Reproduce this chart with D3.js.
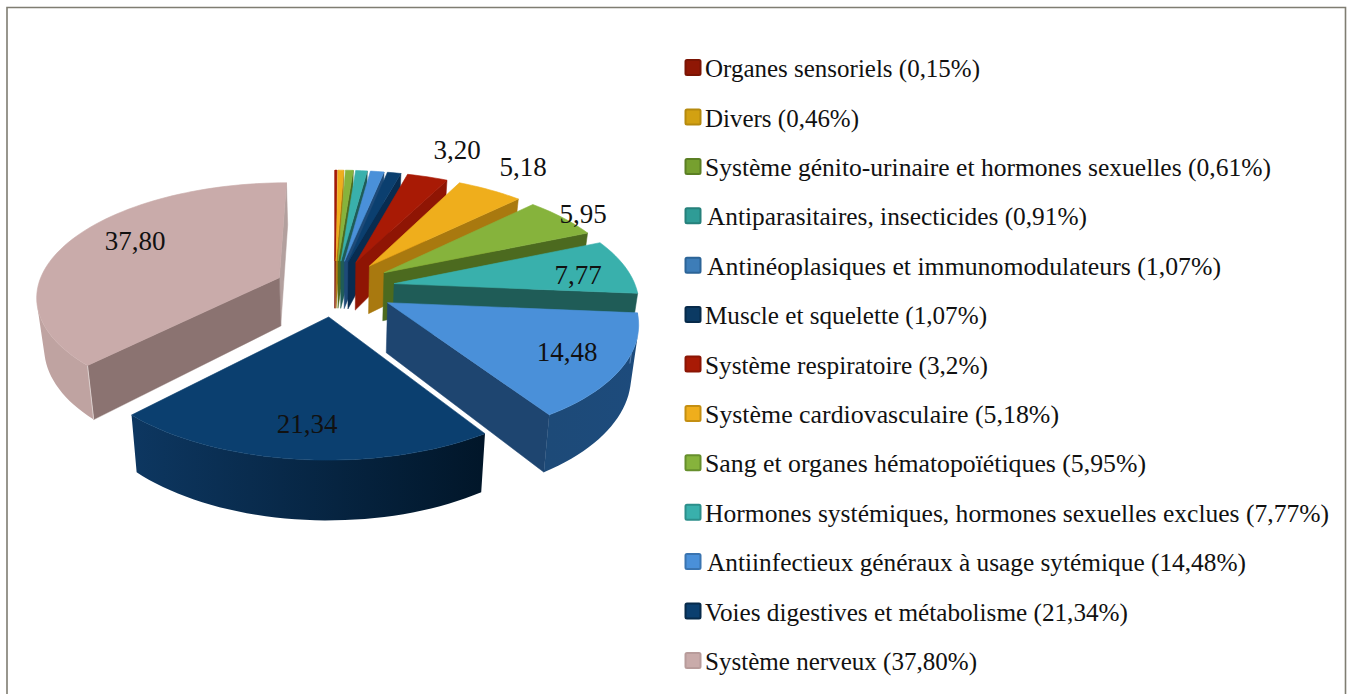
<!DOCTYPE html>
<html><head><meta charset="utf-8">
<script src="https://cdn.jsdelivr.net/npm/d3@7/dist/d3.min.js"></script>
<style>html,body{margin:0;padding:0;background:#fff;overflow:hidden}svg{display:block}text{font-family:"Liberation Serif",serif;fill:#111}</style>
</head><body><svg id="c" width="1352" height="694"></svg>
<script>
const categories = ["Organes sensoriels (0,15%)","Divers (0,46%)","Système génito-urinaire et hormones sexuelles (0,61%)","Antiparasitaires, insecticides (0,91%)","Antinéoplasiques et immunomodulateurs (1,07%)","Muscle et squelette (1,07%)","Système respiratoire (3,2%)","Système cardiovasculaire (5,18%)","Sang et organes hématopoïétiques (5,95%)","Hormones systémiques, hormones sexuelles exclues (7,77%)","Antiinfectieux généraux à usage sytémique (14,48%)","Voies digestives et métabolisme (21,34%)","Système nerveux (37,80%)"];
const values = [0.15,0.46,0.61,0.91,1.07,1.07,3.20,5.18,5.95,7.77,14.48,21.34,37.80];
const valueLabels = [null,null,null,null,null,null,"3,20","5,18","5,95","7,77","14,48","21,34","37,80"];
const topColors = ["#a81a05","#efae1c","#86b33c","#39b0ac","#4a90d9","#0b3f6f","#a81a05","#efae1c","#86b33c","#39b0ac","#4a90d9","#0b3f6f","#c9abaa"];
const radialColors = ["#7f1204","#a9790f","#4c6a1f","#1f5c57","#1e4a78","#082c50","#7f1204","#a9790f","#4c6a1f","#1f5c57","#1e4570","#082c50","#8b7371"];
const endWallColors = ["#7f1204","#a9790f","#4c6a1f","#1f5c57","#1e4a78","#082c50","#8f1504","#a9790f","#4c6a1f","#1f5c57","#1e4570","#082c50","#b3a09e"];
const wallLeft = ["#8f1504","#b98612","#5c8025","#22716c","#2a5f96","#0a3157","#8f1504","#b98612","#5c8025","#22716c","#1d4a78","#0d3761","#bfa3a1"];
const wallRight = ["#8f1504","#b98612","#5c8025","#22716c","#2a5f96","#0a3157","#8f1504","#b98612","#5c8025","#22716c","#1d4b7c","#011629","#bfa3a1"];
const cornerHighlight = [null,null,null,null,null,null,null,null,null,null,"#5f86b4",null,"#dccfcd"];
const swatchFill = ["#8f1705","#d2a112","#76a02f","#2f9c96","#3d7db8","#0b3a63","#a81a05","#efae1c","#86b33c","#39b0ac","#4a90d9","#0b3f6f","#c9abaa"];
const swatchEdge = ["#7a1404","#b58a0e","#5b7f24","#26807b","#2c6497","#072a4a","#8a1504","#c48f12","#668f2c","#2c8f8b","#3a74b0","#072a4a","#b89c9b"];
// layout constants
const legendX = [705,705,705,707,707,705,705,705,705,705,707,705,705];
const legendEnd = [980,859,1271,1087,1221,987,988,1059,1146,1329,1246,1128,977];
const labelCenter = [null,null,null,null,null,null,[457,159],[523,176],[583,223],[578,284],[567,361],[307,433],[135,250]];

const cx=334.7, cy=288, A=242, B=112, p=0.15, H=49, explode=0.25, shrink=0.975;
const svg=d3.select("#c");
const defs=svg.append("defs");
svg.append("path").attr("d","M7,694V7.5H1345.5V694").attr("fill","none").attr("stroke","#7f7d72").attr("stroke-width",1.6);

const project=(x,y,bottom)=>{const w=1+p*y;const sx=cx+A*x/w*(bottom?shrink:1);const sy=cy-B*y/w+(bottom?H/w:0);return [sx,sy];};
const area=q=>-d3.polygonArea(q);
const pie=d3.pie().sort(null).startAngle(0).endAngle(2*Math.PI)(values);
const line=d3.line();
const order=[12].concat(d3.range(0,12));
const g=svg.append("g");
order.forEach(i=>{
  const d=pie[i], mid=(d.startAngle+d.endAngle)/2;
  const ox=explode*Math.sin(mid), oy=explode*Math.cos(mid);
  const pt=(t,r,b)=>project(ox+r*Math.sin(t),oy+r*Math.cos(t),b);
  const n=Math.max(2,Math.ceil((d.endAngle-d.startAngle)/0.035));
  const ts=d3.range(n+1).map(k=>d.startAngle+(d.endAngle-d.startAngle)*k/n);
  // radial walls, only those facing the viewer
  const wall=t=>[pt(t,0,false),pt(t,1,false),pt(t,1,true),pt(t,0,true)];
  const endW=wall(d.endAngle), startW=wall(d.startAngle);
  if(area(endW)>0) g.append("path").attr("d",line(endW)+"Z").attr("fill",endWallColors[i]).attr("stroke",endWallColors[i]).attr("stroke-width",.5);
  if(area(startW)<0) g.append("path").attr("d",line(startW)+"Z").attr("fill",radialColors[i]).attr("stroke",radialColors[i]).attr("stroke-width",.5);
  // outer wall: the arc segments facing the viewer, as one shape with a gradient
  const vis=[];
  ts.slice(0,-1).forEach((t,k)=>{
    const q=[pt(t,1,false),pt(ts[k+1],1,false),pt(ts[k+1],1,true),pt(t,1,true)];
    if(area(q)<0){ if(!vis.length) vis.push(t); vis.push(ts[k+1]); }
  });
  if(vis.length){
    const gid="wall"+i, xa=pt(d.startAngle,1,false)[0], xb=pt(d.endAngle,1,false)[0];
    const lg=defs.append("linearGradient").attr("id",gid).attr("gradientUnits","userSpaceOnUse")
      .attr("x1",Math.min(xa,xb)).attr("x2",Math.max(xa,xb)).attr("y1",0).attr("y2",0);
    lg.append("stop").attr("offset",0).attr("stop-color",wallLeft[i]);
    lg.append("stop").attr("offset",1).attr("stop-color",wallRight[i]);
    g.append("path").attr("d",line(vis.map(t=>pt(t,1,false)).concat(vis.slice().reverse().map(t=>pt(t,1,true))))+"Z")
     .attr("fill",`url(#${gid})`);
  }
  if(cornerHighlight[i]){
    g.append("path").attr("d",line([pt(d.startAngle,1,false),pt(d.startAngle,1,true)])).attr("stroke",cornerHighlight[i]).attr("stroke-width",1);
  }
  // top face
  g.append("path").attr("d",line([pt(0,0,false)].concat(ts.map(t=>pt(t,1,false))))+"Z")
   .attr("fill",topColors[i]).attr("stroke",topColors[i]).attr("stroke-width",.6).attr("stroke-linejoin","round");
});
// value labels
svg.append("g").selectAll("text").data(valueLabels.map((t,i)=>({t,i})).filter(d=>d.t)).join("text")
  .attr("x",d=>labelCenter[d.i][0]).attr("y",d=>labelCenter[d.i][1]).attr("text-anchor","middle")
  .attr("font-size",27).text(d=>d.t);
// legend
const rowY=d3.scaleLinear().domain([0,12]).range([67.6,660.4]);
const lg=svg.append("g").selectAll("g").data(categories).join("g").attr("transform",(d,i)=>`translate(0,${rowY(i)})`);
lg.append("rect").attr("x",685.5).attr("y",-7.5).attr("width",15).attr("height",15).attr("rx",1.5)
  .attr("fill",(d,i)=>swatchFill[i]).attr("stroke",(d,i)=>swatchEdge[i]).attr("stroke-width",2);
lg.append("text").attr("x",(d,i)=>legendX[i]).attr("y",9.5).attr("font-size",25.5)
  .attr("textLength",(d,i)=>legendEnd[i]-legendX[i]).attr("lengthAdjust","spacingAndGlyphs").text(d=>d);
</script></body></html>
